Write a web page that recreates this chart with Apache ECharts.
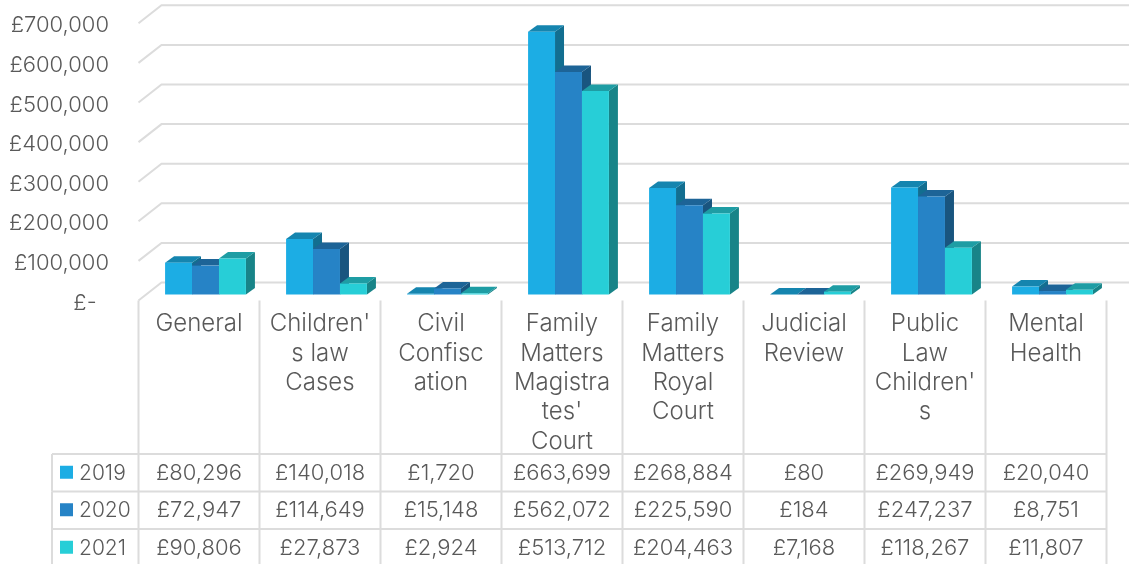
<!DOCTYPE html>
<html>
<head>
<meta charset="utf-8">
<title>Costs by case type</title>
<script src="https://cdn.jsdelivr.net/npm/echarts@6/dist/echarts.min.js"></script>
<style>
    html, body { margin: 0; padding: 0; background: #fff; }
    #chart { width: 1129px; height: 564px; }
</style>
</head>
<body>
<div id="chart"></div>
<script>
var categories = ['General', "Children'\ns law\nCases", 'Civil\nConfisc\nation', "Family\nMatters\nMagistra\ntes'\nCourt",
    'Family\nMatters\nRoyal\nCourt', 'Judicial\nReview', "Public\nLaw\nChildren'\ns", 'Mental\nHealth'];
var years = ['2019', '2020', '2021'];
var values2019 = [80296, 140018, 1720, 663699, 268884, 80, 269949, 20040];
var values2020 = [72947, 114649, 15148, 562072, 225590, 184, 247237, 8751];
var values2021 = [90806, 27873, 2924, 513712, 204463, 7168, 118267, 11807];
var yTicks = [0, 100000, 200000, 300000, 400000, 500000, 600000, 700000];

var seriesValues = [values2019, values2020, values2021];
var frontColors = ['#1CADE4', '#2683C6', '#27CED7'];
var topColors = ['#1585AF', '#1D6497', '#1E9DA4'];
var sideColors = ['#126E90', '#19557F', '#188488'];

var textColor = '#595959';
var lineColor = '#DCDCDC';
var fontFamily = 'Inter, Lato, sans-serif';
var fontWeight = 300;
var fontSize = 22;
var yearFontSize = 21;
var categoryFontSize = 24;

// depth of the wall and of the bars, in pixels
var wallDx = 23, wallDy = 18;
var barDx = 9, barDy = 6.5;
var barShiftX = 6.5, barShiftY = 6;
var barWidthRatio = 0.2227;

// table under the plot
var tableLeft = 52, tableTop = 454, rowHeight = 37.5, tableBottom = 564;

function money(v) {
    return '£' + v.toLocaleString('en-GB');
}

function lineShape(x1, y1, x2, y2) {
    return {
        type: 'line',
        shape: { x1: x1, y1: y1, x2: x2, y2: y2 },
        style: { stroke: lineColor, lineWidth: 2, fill: null }
    };
}

function cellText(x, y, text, align, size) {
    return {
        type: 'text',
        x: x,
        y: y,
        style: {
            text: text,
            fill: textColor,
            font: fontWeight + ' ' + size + 'px ' + fontFamily,
            textAlign: align,
            textVerticalAlign: 'middle'
        }
    };
}

function renderWall(params, api) {
    var cs = params.coordSys;
    var y = api.coord([0, api.value(1)])[1];
    return {
        type: 'polyline',
        shape: { points: [[cs.x, y], [cs.x + wallDx, y - wallDy], [cs.x + cs.width + wallDx, y - wallDy]] },
        style: { stroke: lineColor, lineWidth: 2, fill: null }
    };
}

function makeBarRender(s) {
    return function (params, api) {
        var band = api.size([1, 0])[0];
        var w = band * barWidthRatio;
        var base = api.coord([api.value(0), 0]);
        var top = api.coord([api.value(0), api.value(1)]);
        var x0 = base[0] + barShiftX + (s - 1.5) * w;
        var x1 = x0 + w;
        var y0 = base[1] - barShiftY;
        var y1 = top[1] - barShiftY;
        return {
            type: 'group',
            children: [
                {
                    type: 'polygon',
                    shape: { points: [[x1, y0], [x1 + barDx, y0 - barDy], [x1 + barDx, y1 - barDy], [x1, y1]] },
                    style: { fill: sideColors[s] }
                },
                {
                    type: 'polygon',
                    shape: { points: [[x0, y1], [x0 + barDx, y1 - barDy], [x1 + barDx, y1 - barDy], [x1, y1]] },
                    style: { fill: topColors[s] }
                },
                {
                    type: 'rect',
                    shape: { x: x0, y: y1, width: w, height: y0 - y1 },
                    style: { fill: frontColors[s] }
                }
            ]
        };
    };
}

// one item per vertical rule of the table
function renderColumnRule(params, api) {
    var cs = params.coordSys;
    var x = cs.x + api.value(0) * api.size([1, 0])[0];
    return lineShape(x, cs.y + cs.height, x, tableBottom);
}

// one item per year row
function renderRow(params, api) {
    var cs = params.coordSys;
    var r = params.dataIndex;
    var top = tableTop + r * rowHeight;
    var mid = top + rowHeight / 2 + 0.5;
    var children = [
        lineShape(tableLeft, top, cs.x + cs.width, top),
        lineShape(tableLeft, top, tableLeft, top + rowHeight),
        {
            type: 'rect',
            shape: { x: 60, y: mid - 7.5, width: 13, height: 13 },
            style: { fill: frontColors[r] }
        },
        cellText(79, mid, years[r], 'left', yearFontSize)
    ];
    for (var i = 0; i < categories.length; i++) {
        children.push(cellText(api.coord([i, 0])[0], mid, money(seriesValues[r][i]), 'center', fontSize));
    }
    return { type: 'group', children: children };
}

var series = [{
    type: 'custom',
    name: 'wall',
    silent: true,
    clip: false,
    z: 1,
    renderItem: renderWall,
    encode: { x: 0, y: 1 },
    data: yTicks.map(function (t) { return [0, t]; })
}];

years.forEach(function (year, s) {
    series.push({
        type: 'custom',
        name: year,
        clip: false,
        z: 2,
        renderItem: makeBarRender(s),
        encode: { x: 0, y: 1 },
        data: seriesValues[s].map(function (v, i) { return [i, v]; })
    });
});

series.push({
    type: 'custom',
    name: 'columns',
    silent: true,
    clip: false,
    z: 3,
    renderItem: renderColumnRule,
    encode: { x: 0 },
    data: categories.concat(['']).map(function (c, i) { return [i]; })
});

series.push({
    type: 'custom',
    name: 'table',
    silent: true,
    clip: false,
    z: 3,
    renderItem: renderRow,
    encode: { x: 0 },
    data: years.map(function (y, i) { return [0]; })
});

var myChart = echarts.init(document.getElementById('chart'));
var option = {
    animation: false,
    backgroundColor: '#fff',
    textStyle: { fontFamily: fontFamily },
    grid: { left: 138.5, right: 22.5, top: 23.3, bottom: 263.5 },
    xAxis: {
        type: 'category',
        data: categories,
        axisLine: { show: false },
        axisTick: { show: false },
        axisLabel: {
            interval: 0,
            margin: 9,
            color: textColor,
            fontSize: categoryFontSize,
            fontWeight: fontWeight,
            fontFamily: fontFamily,
            lineHeight: 29.3,
            align: 'center',
            verticalAlign: 'top'
        }
    },
    yAxis: {
        type: 'value',
        min: 0,
        max: 700000,
        interval: 100000,
        axisLine: { show: false },
        axisTick: { show: false },
        splitLine: { show: false },
        axisLabel: {
            margin: 29.5,
            formatter: function (v) {
                return '{tick|' + (v === 0 ? '£-  ' : money(v)) + '}';
            },
            rich: {
                tick: {
                    color: textColor,
                    fontSize: fontSize,
                    fontWeight: fontWeight,
                    fontFamily: fontFamily,
                    padding: [5, 0, 0, 0]
                }
            }
        }
    },
    series: series
};
myChart.setOption(option);
</script>
</body>
</html>
